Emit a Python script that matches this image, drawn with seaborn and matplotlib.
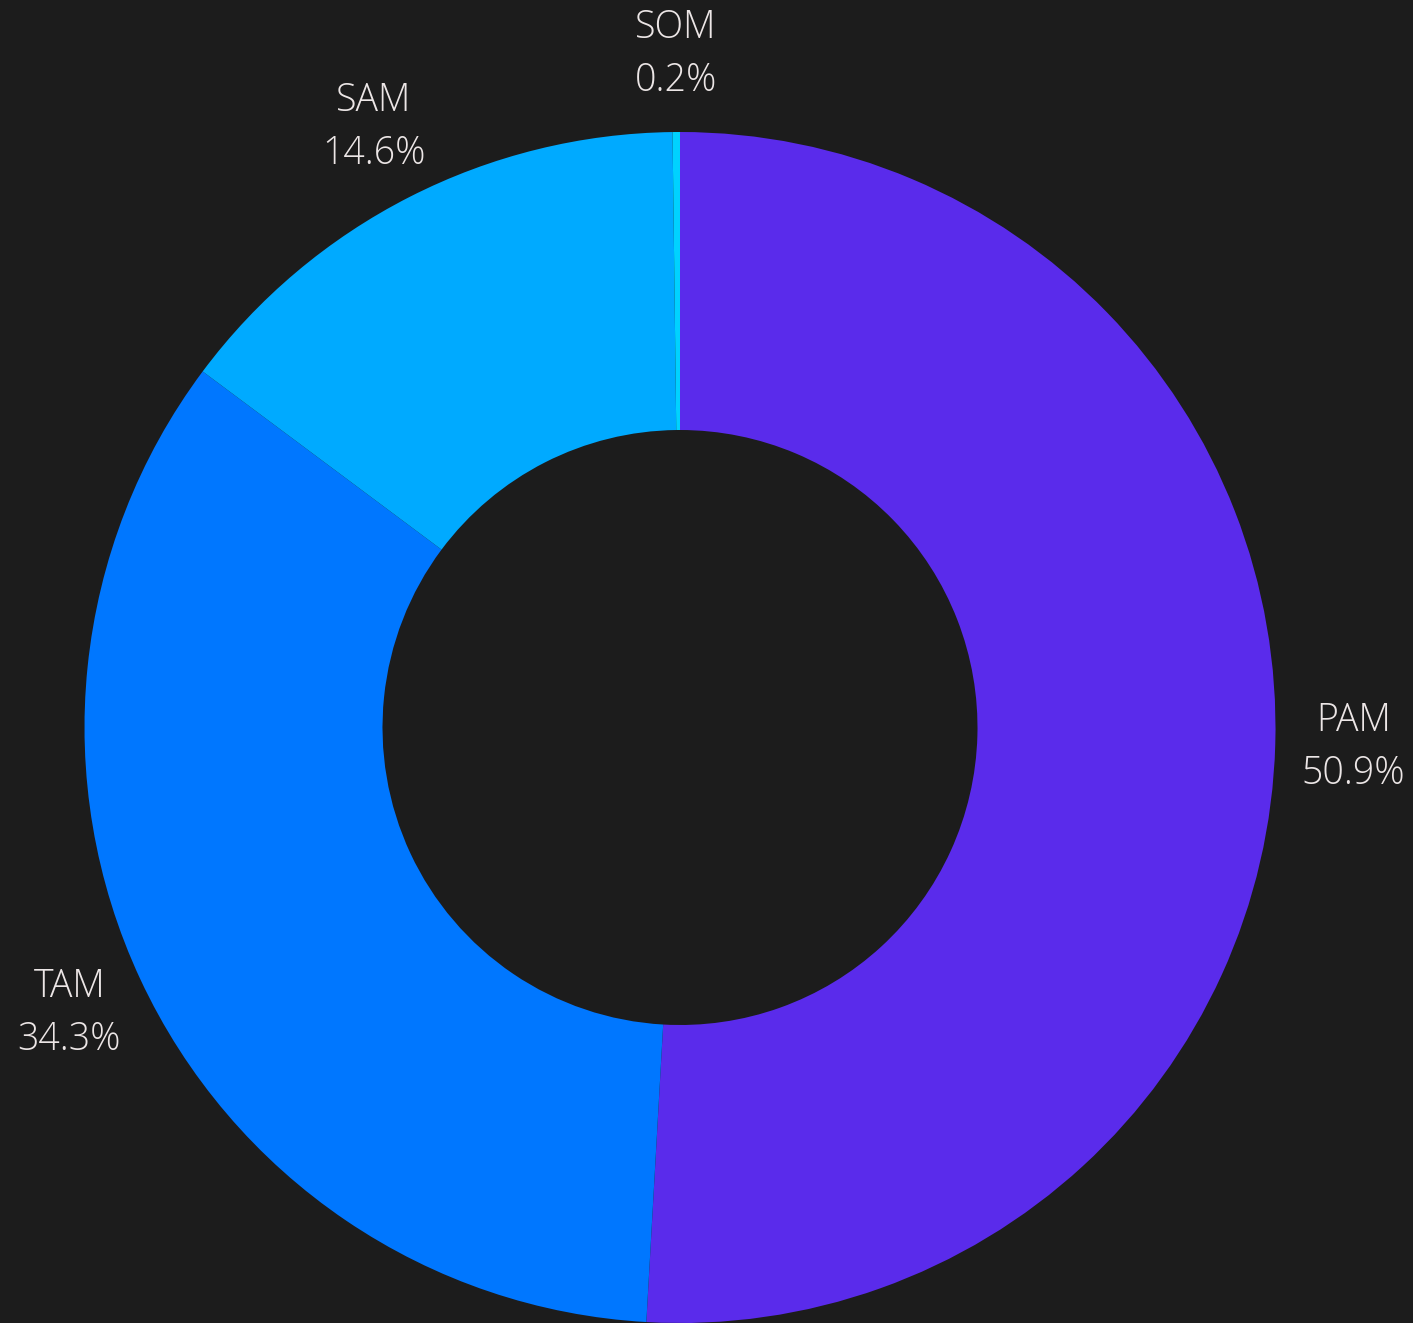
import numpy as np
import matplotlib
matplotlib.use("Agg")
import matplotlib.pyplot as plt
import seaborn as sns

# Données du marché
segments = ["PAM", "TAM", "SAM", "SOM"]
parts = [50.9, 34.3, 14.6, 0.2]
couleurs = ["#5A2BEB", "#0077FF", "#00AAFF", "#00D2FF"]

fond = "#1C1C1C"
texte = "#ECE6E6"

sns.set_theme(style="dark", rc={"figure.facecolor": fond, "axes.facecolor": fond})
plt.rcParams["font.family"] = ["Open Sans", "DejaVu Sans"]

W, H = 1413, 1323
fig = plt.figure(figsize=(W / 100, H / 100), dpi=100)
ax = fig.add_axes([0, 0, 1, 1])

cx, cy = 680, H - 727.5
rayon = 595.5
epaisseur = 298

palette = sns.color_palette(couleurs)
ax.pie(parts, colors=palette, startangle=90, counterclock=False,
       radius=rayon, center=(cx, cy),
       wedgeprops=dict(width=epaisseur, linewidth=0))

# Etiquettes autour de l'anneau
total = sum(parts)
cumul = 0
for nom, p in zip(segments, parts):
    milieu = 90 - (cumul + p / 2) / total * 360
    cumul += p
    a = np.deg2rad(milieu)
    x = cx + 674 * np.cos(a)
    y = cy + 674 * np.sin(a)
    ax.text(x, y + 26, nom, ha="center", va="center", fontsize=27,
            color=texte, fontweight="light")
    ax.text(x, y - 27, f"{p:.1f}%", ha="center", va="center", fontsize=27,
            color=texte, fontweight="light")

ax.set_xlim(0, W)
ax.set_ylim(0, H)
ax.set_aspect("equal")
ax.axis("off")

fig.savefig("out.png", dpi=100, facecolor=fond)
